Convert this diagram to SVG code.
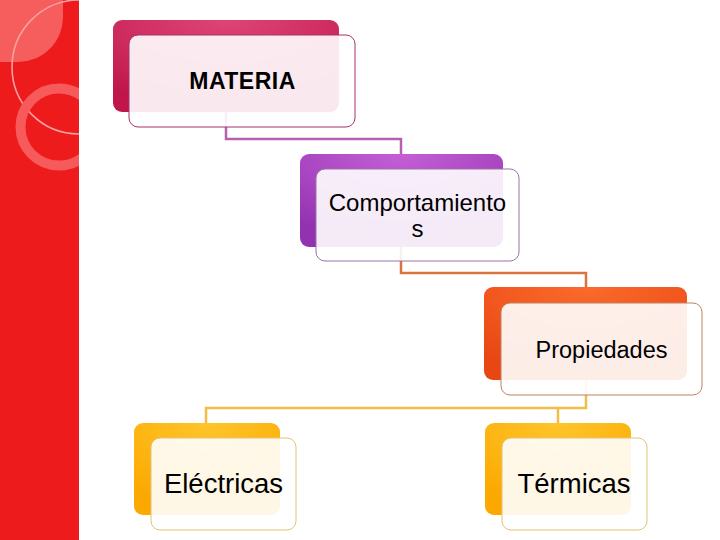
<svg xmlns="http://www.w3.org/2000/svg" width="720" height="540" viewBox="0 0 720 540">
<defs>
<clipPath id="clipBar"><rect x="0" y="0" width="79" height="540"/></clipPath>
<radialGradient id="gM" cx="0.5" cy="0" r="0.9"><stop offset="0" stop-color="#de4576"/><stop offset="1" stop-color="#c0164c"/></radialGradient>
<radialGradient id="gC" cx="0.5" cy="0" r="0.9"><stop offset="0" stop-color="#c65fd6"/><stop offset="1" stop-color="#9232b0"/></radialGradient>
<radialGradient id="gP" cx="0.5" cy="0" r="0.9"><stop offset="0" stop-color="#fb6a2c"/><stop offset="1" stop-color="#e84612"/></radialGradient>
<radialGradient id="gY" cx="0.5" cy="0" r="0.9"><stop offset="0" stop-color="#ffc52a"/><stop offset="1" stop-color="#fba800"/></radialGradient>
<style>
.back{stroke:none}
.front{fill:#ffffff;fill-opacity:0.9;stroke-width:1}
.lbl{font-family:"Liberation Sans",Arial,sans-serif;fill:#000;text-anchor:middle}
.con{fill:none;stroke-width:2.5}
</style>
</defs>
<rect x="0" y="0" width="720" height="540" fill="#ffffff"/>
<g id="sidebar" clip-path="url(#clipBar)">
<rect x="0" y="0" width="79" height="540" fill="#ee1b1d"/>
<path d="M0 0 H63 V17 A45 45 0 0 1 18 62 H0 Z" fill="#f76a6a" fill-opacity="0.85"/>
<circle cx="79" cy="67" r="67" fill="none" stroke="#f9a0a0" stroke-width="1.6"/>
<circle cx="59" cy="127" r="38.5" fill="none" stroke="#f65a5a" stroke-width="10"/>
</g>
<g id="connectors">
<polyline class="con" points="226,112 226,139 401,139 401,155" stroke="#b462b0"/>
<polyline class="con" points="401,247 401,273 586,273 586,288" stroke="#d8743e"/>
<polyline class="con" points="586,380 586,408 206,408 206,424" stroke="#f2bc48"/>
<polyline class="con" points="558,408 558,424" stroke="#f2bc48"/>
</g>
<g id="node-materia">
<rect class="back" x="113" y="20" width="226" height="92" rx="9" fill="url(#gM)"/>
<rect class="front" x="129" y="35" width="226" height="92" rx="9" stroke="#a8306a"/>
<text class="lbl" x="242.5" y="89" font-size="23" font-weight="bold" letter-spacing="0.5">MATERIA</text>
</g>
<g id="node-comportamientos">
<rect class="back" x="300" y="154" width="203" height="93" rx="9" fill="url(#gC)"/>
<rect class="front" x="316" y="169" width="203" height="92" rx="9" stroke="#9a72a8"/>
<text class="lbl" x="417.5" y="211" font-size="24">Comportamiento</text>
<text class="lbl" x="417.5" y="237" font-size="24">s</text>
</g>
<g id="node-propiedades">
<rect class="back" x="484" y="287" width="203" height="93" rx="9" fill="url(#gP)"/>
<rect class="front" x="501" y="303" width="201" height="92" rx="9" stroke="#c08262"/>
<text class="lbl" x="601.5" y="358" font-size="23.5">Propiedades</text>
</g>
<g id="node-electricas">
<rect class="back" x="134" y="423" width="146" height="92" rx="9" fill="url(#gY)"/>
<rect class="front" x="151" y="438" width="145" height="92" rx="9" stroke="#e2c27a"/>
<text class="lbl" x="223.5" y="493" font-size="27.5">Eléctricas</text>
</g>
<g id="node-termicas">
<rect class="back" x="485" y="423" width="146" height="92" rx="9" fill="url(#gY)"/>
<rect class="front" x="502" y="438" width="145" height="92" rx="9" stroke="#e2c27a"/>
<text class="lbl" x="574" y="493" font-size="27.5">Térmicas</text>
</g>
</svg>
